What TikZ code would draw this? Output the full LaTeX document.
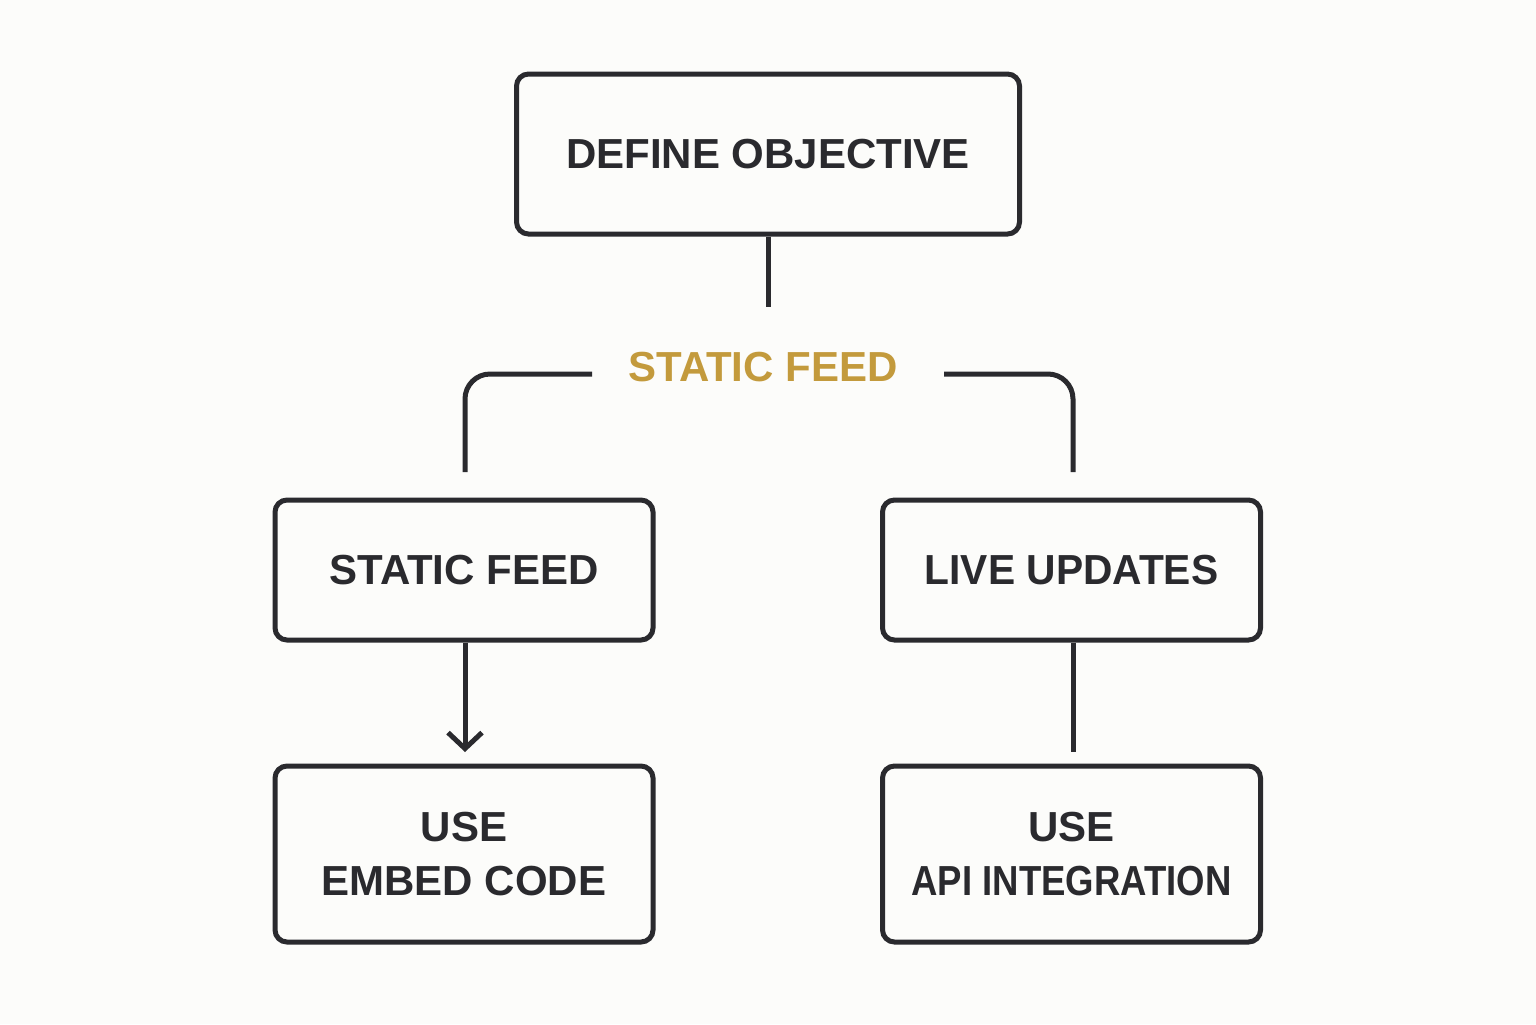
\documentclass[tikz,border=0pt]{standalone}
\usepackage{fontspec}
\setmainfont{Liberation Sans}
\usetikzlibrary{arrows.meta}
\definecolor{bg}{HTML}{FCFCFA}
\definecolor{ink}{HTML}{2A2A2E}
\definecolor{gold}{HTML}{C39A3C}
\tikzset{
  box/.style={draw=ink, line width=2.5pt, rounded corners=6pt, align=center,
    text=ink, font=\fontsize{21}{27}\selectfont\bfseries, inner sep=0pt},
  conn/.style={draw=ink, line width=2.5pt},
  lbl/.style={text=gold, font=\fontsize{21}{27}\selectfont\bfseries, inner sep=0pt}
}
\begin{document}
\begin{tikzpicture}[x=0.5pt,y=-0.5pt]
\useasboundingbox[fill=bg] (0,0) rectangle (1536,1024);
\node[box, minimum width=251.5pt, minimum height=80pt] (top) at (768,154) {DEFINE OBJECTIVE};
\node[lbl] (lab) at (763,367) {STATIC FEED};
\node[box, minimum width=189pt, minimum height=70pt] (sf) at (464,570) {STATIC FEED};
\node[box, minimum width=189pt, minimum height=70pt] (lu) at (1071.5,570) {\scalebox{0.97}[1]{LIVE UPDATES}};
\node[box, minimum width=189pt, minimum height=88pt] (ec) at (464,854) {USE\\EMBED CODE};
\node[box, minimum width=189pt, minimum height=88pt] (api) at (1071.5,854) {USE\\\scalebox{0.87}[1]{API INTEGRATION}};
\coordinate (t1) at (768,307);
\coordinate (l1) at (592,374);
\coordinate (l2) at (465,472);
\coordinate (r1) at (944,374);
\coordinate (r2) at (1073,472);
\coordinate (a1) at (465,752);
\coordinate (b1) at (1073,752);
\draw[conn] (top.south -| t1) -- (t1);
\draw[conn, rounded corners=12.5pt] (l1) -| (l2);
\draw[conn, rounded corners=12.5pt] (r1) -| (r2);
\draw[conn, -{Straight Barb[length=8pt,width=17pt]}] (sf.south -| a1) -- (a1);
\draw[conn] (lu.south -| b1) -- (b1);
\end{tikzpicture}
\end{document}
